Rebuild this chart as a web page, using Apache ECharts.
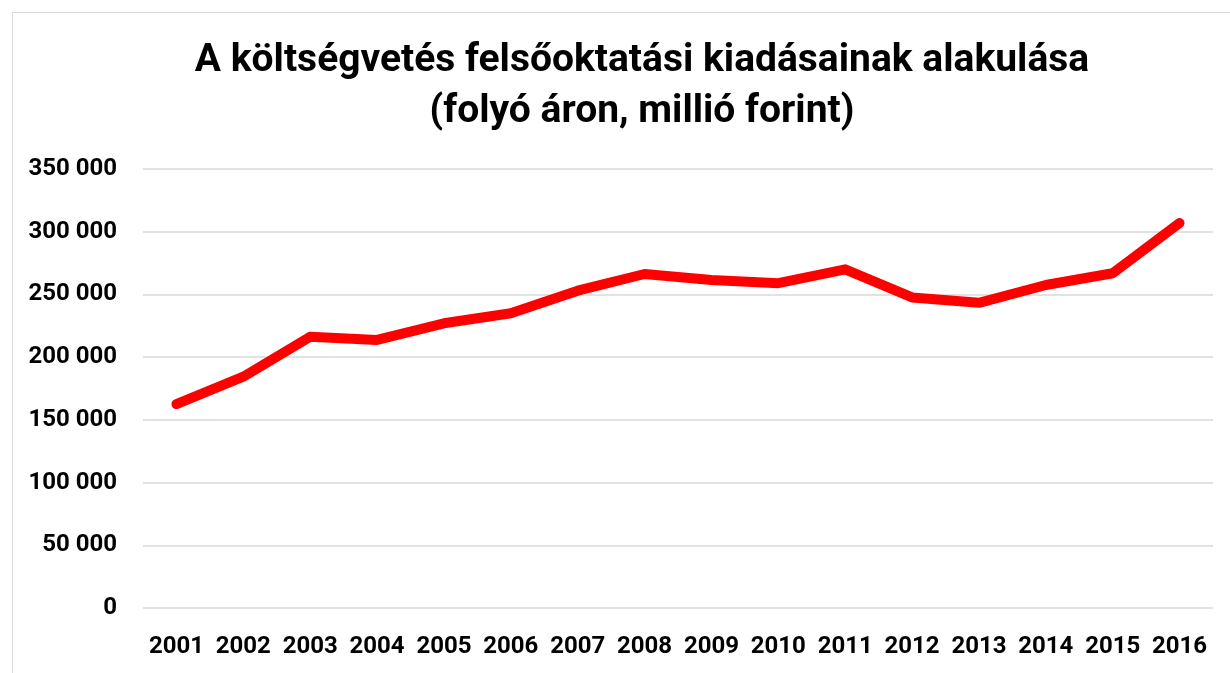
<!DOCTYPE html>
<html>
<head>
<meta charset="utf-8">
<script src="https://cdn.jsdelivr.net/npm/echarts@6/dist/echarts.min.js"></script>
<style>
  html, body { margin: 0; padding: 0; background: #fff; }
  #lineGraph { width: 1230px; height: 673px; }
</style>
</head>
<body>
<div id="lineGraph"></div>
<script>
var years = ['2001', '2002', '2003', '2004', '2005', '2006', '2007', '2008',
	'2009', '2010', '2011', '2012', '2013', '2014', '2015', '2016'];
var spending = [162600, 184400, 216300, 213700, 227000, 235000, 253000, 266300,
	261500, 259000, 270000, 247600, 243300, 257500, 266900, 307000];
var titleLines = ['A költségvetés felsőoktatási kiadásainak alakulása', '(folyó áron, millió forint)'];

var fontFamily = "Roboto, 'Liberation Sans', sans-serif";

var lineGraph = echarts.init(document.getElementById('lineGraph'));

var option = {
	color: ['#FF0000'],
	animation: false,
	title: {
		text: titleLines.join('\n'),
		left: 642,
		top: 36,
		textAlign: 'center',
		padding: 0,
		textStyle: {
			fontFamily: fontFamily,
			fontWeight: 'bold',
			fontSize: 39,
			lineHeight: 51,
			color: '#000'
		}
	},
	graphic: [
		{
			type: 'rect',
			shape: { x: 12.5, y: 12.5, width: 1300, height: 700 },
			style: { fill: 'none', stroke: '#d9d9d9', lineWidth: 1 },
			silent: true
		}
	],
	grid: {
		left: 143,
		right: 17,
		top: 169,
		bottom: 65
	},
	xAxis: {
		type: 'category',
		data: years,
		boundaryGap: true,
		axisLine: { show: false },
		axisTick: { show: false },
		axisLabel: {
			interval: 0,
			margin: 27,
			fontFamily: fontFamily,
			fontWeight: 'bold',
			fontSize: 24,
			color: '#000'
		}
	},
	yAxis: {
		type: 'value',
		min: 0,
		max: 350000,
		interval: 50000,
		axisLine: { show: false },
		axisTick: { show: false },
		splitLine: { lineStyle: { color: '#d9d9d9', width: 1.5 } },
		axisLabel: {
			margin: 26,
			fontFamily: fontFamily,
			fontWeight: 'bold',
			fontSize: 24,
			color: '#000',
			formatter: function (v) {
				return String(v).replace(/\B(?=(\d{3})+(?!\d))/g, ' ');
			}
		}
	},
	series: [
		{
			type: 'line',
			data: spending,
			symbol: 'none',
			lineStyle: { width: 10, color: '#FF0000', cap: 'round', join: 'round' }
		}
	]
};
lineGraph.setOption(option);
</script>
</body>
</html>
